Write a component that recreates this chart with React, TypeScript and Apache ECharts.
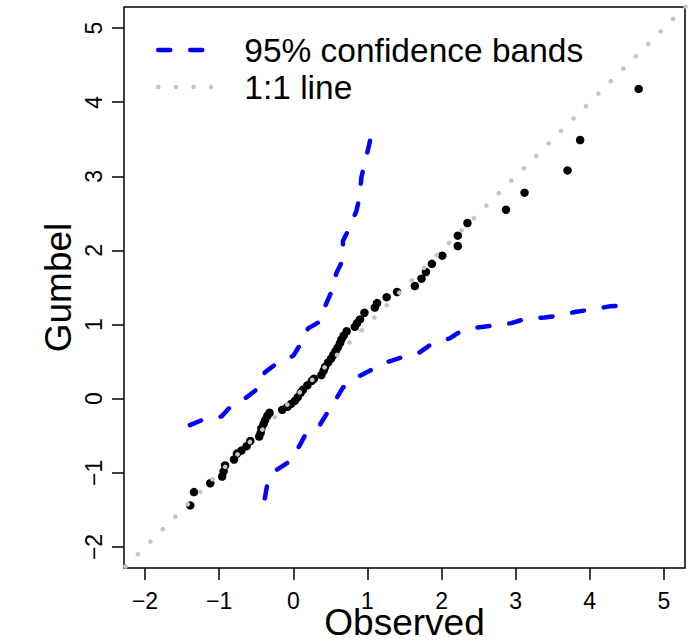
import React, { useEffect, useRef } from 'react';
import * as echarts from 'echarts';

// Sample quantiles (observed) vs Gumbel theoretical quantiles
const observed = [
  -1.39, -1.34, -1.12, -0.96, -0.94, -0.92, -0.8, -0.76, -0.7, -0.63, -0.58,
  -0.46, -0.44, -0.43, -0.4, -0.38, -0.35, -0.32, -0.15, -0.08, -0.03, 0.02,
  0.06, 0.1, 0.13, 0.19, 0.25, 0.28, 0.38, 0.41, 0.43, 0.47, 0.51, 0.54, 0.57,
  0.6, 0.63, 0.65, 0.68, 0.72, 0.83, 0.86, 0.9, 0.96, 1.1, 1.13, 1.26, 1.4,
  1.64, 1.73, 1.79, 1.87, 2.01, 2.22, 2.22, 2.35, 2.87, 3.12, 3.7, 3.87, 4.66,
];
const gumbel = [
  -1.44, -1.26, -1.14, -1.05, -0.98, -0.9, -0.82, -0.74, -0.7, -0.64, -0.57,
  -0.51, -0.46, -0.4, -0.34, -0.29, -0.23, -0.19, -0.15, -0.11, -0.07, -0.03,
  0.02, 0.08, 0.12, 0.18, 0.24, 0.27, 0.32, 0.38, 0.43, 0.49, 0.54, 0.59, 0.64,
  0.69, 0.75, 0.8, 0.85, 0.91, 0.97, 1.02, 1.07, 1.16, 1.23, 1.29, 1.37, 1.44,
  1.52, 1.62, 1.71, 1.82, 1.93, 2.06, 2.2, 2.37, 2.55, 2.78, 3.08, 3.49, 4.18,
];

// 95% confidence bands
const upperBandX = [
  -1.395, -1.224, -1.06, -0.968, -0.856, -0.631, -0.488, -0.384, -0.236, 0.0,
  0.088, 0.199, 0.357, 0.447, 0.515, 0.582, 0.663, 0.671, 0.761, 0.852, 0.896,
  0.919, 0.964, 1.022, 1.067,
];
const upperBandY = [
  -0.356, -0.285, -0.26, -0.239, -0.117, 0.018, 0.13, 0.355, 0.467, 0.579,
  0.723, 0.949, 1.038, 1.29, 1.443, 1.695, 1.861, 2.131, 2.312, 2.536, 2.73,
  2.987, 3.175, 3.42, 3.64,
];
const lowerBandX = [
  -0.384, -0.353, -0.226, -0.07, 0.078, 0.155, 0.357, 0.447, 0.582, 0.671,
  0.896, 1.054, 1.278, 1.458, 1.705, 1.862, 2.109, 2.234, 2.49, 2.671, 2.94,
  3.12, 3.39, 3.569, 3.817, 3.996, 4.266, 4.468,
];
const lowerBandY = [
  -1.345, -1.166, -0.96, -0.86, -0.644, -0.5, -0.356, -0.208, 0.004, 0.152,
  0.309, 0.39, 0.498, 0.557, 0.625, 0.737, 0.814, 0.895, 0.962, 0.984, 1.02,
  1.074, 1.097, 1.119, 1.173, 1.2, 1.246, 1.254,
];

// 1:1 reference line end points
const identityLine = [-2.6, 5.6];

const tickValues = [-2, -1, 0, 1, 2, 3, 4, 5];
const legendLabels = ['95% confidence bands', '1:1 line'];
const xTitle = 'Observed';
const yTitle = 'Gumbel';

const FONT = '"Liberation Sans", Arial, Helvetica, sans-serif';

const zip = (xs: number[], ys: number[]) => xs.map((x, i) => [x, ys[i]]);
const fmt = (v: number) => (v < 0 ? '\u2212' + Math.abs(v) : String(v));

export default function App() {
  const ref = useRef<HTMLDivElement>(null);

  useEffect(() => {
    if (!ref.current) return;
    const chart = echarts.init(ref.current, null, { renderer: 'svg' });

    const axisCommon = {
      type: 'value' as const,
      min: -2.284,
      max: 5.285,
      splitLine: { show: false },
      axisLine: { show: false, onZero: false },
      axisTick: {
        show: true,
        length: 12,
        customValues: tickValues,
        lineStyle: { color: '#000', width: 1.5 },
      },
      axisLabel: {
        customValues: tickValues,
        formatter: fmt,
        fontFamily: FONT,
        fontSize: 23,
        color: '#000',
        showMinLabel: true,
        showMaxLabel: true,
      },
      nameLocation: 'middle' as const,
      nameMoveOverlap: false,
      nameTextStyle: { fontFamily: FONT, fontSize: 37, color: '#000' },
    };

    const bandStyle = {
      color: '#0000FF',
      width: 4.5,
      type: [12, 20],
      cap: 'round' as const,
      join: 'round' as const,
    };

    chart.setOption({
      animation: false,
      backgroundColor: '#fff',
      grid: {
        left: 124,
        right: 6,
        top: 7,
        bottom: 73,
        show: true,
        borderColor: '#000',
        borderWidth: 1.5,
        backgroundColor: 'transparent',
        containLabel: false,
        outerBoundsMode: 'none',
      },
      xAxis: {
        ...axisCommon,
        name: xTitle,
        nameGap: 36,
        axisLabel: { ...axisCommon.axisLabel, margin: 21 },
      },
      yAxis: {
        ...axisCommon,
        name: yTitle,
        nameGap: 47,
        axisLabel: { ...axisCommon.axisLabel, margin: 19, rotate: 90 },
      },
      legend: {
        data: legendLabels,
        orient: 'vertical',
        left: 151,
        top: 28,
        itemWidth: 54,
        itemHeight: 14,
        itemGap: 3,
        selectedMode: false,
        itemStyle: { opacity: 0, borderWidth: 0 },
        lineStyle: { width: 4.5 },
        textStyle: {
          fontFamily: FONT,
          fontSize: 33.5,
          color: '#000',
          padding: [0, 0, 0, 27],
        },
      },
      series: [
        {
          name: 'quantiles',
          type: 'scatter',
          data: zip(observed, gumbel),
          symbol: 'circle',
          symbolSize: 8.5,
          itemStyle: { color: '#000', opacity: 1 },
          z: 2,
        },
        {
          name: legendLabels[0],
          type: 'line',
          data: zip(upperBandX, upperBandY),
          symbol: 'none',
          showSymbol: false,
          itemStyle: { color: '#0000FF' },
          lineStyle: bandStyle,
          z: 3,
        },
        {
          name: legendLabels[0],
          type: 'line',
          data: zip(lowerBandX, lowerBandY),
          symbol: 'none',
          showSymbol: false,
          itemStyle: { color: '#0000FF' },
          lineStyle: bandStyle,
          z: 3,
        },
        {
          name: legendLabels[1],
          type: 'line',
          data: zip(identityLine, identityLine),
          symbol: 'none',
          showSymbol: false,
          itemStyle: { color: '#C4C4C4' },
          lineStyle: {
            color: '#C4C4C4',
            width: 4.5,
            type: [0.1, 17.5],
            cap: 'round',
          },
          z: 4,
        },
      ],
    });

    return () => chart.dispose();
  }, []);

  return (
    <div
      ref={ref}
      style={{ position: 'fixed', left: 0, top: 0, width: 691, height: 641 }}
    />
  );
}
